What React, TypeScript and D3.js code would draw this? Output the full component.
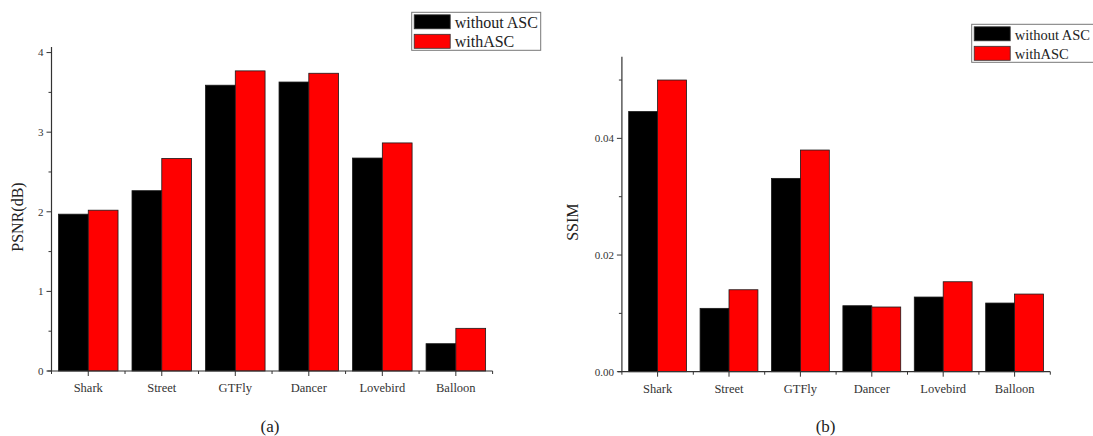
import React from "react";
import * as d3 from "d3";

const categories = ["Shark", "Street", "GTFly", "Dancer", "Lovebird", "Balloon"];
const seriesNames = ["without ASC", "withASC"];
const seriesColors = ["#000000", "#ff0000"];
const psnrWithout = [1.97, 2.265, 3.59, 3.63, 2.675, 0.343];
const psnrWith = [2.02, 2.67, 3.77, 3.74, 2.865, 0.536];
const ssimWithout = [0.0446, 0.01086, 0.03314, 0.01131, 0.0128, 0.01177];
const ssimWith = [0.05, 0.01405, 0.038, 0.01109, 0.01542, 0.01331];
const psnrTicks = [0, 1, 2, 3, 4];
const ssimTicks = [0, 0.02, 0.04];

const FONT = "'Liberation Serif', 'Times New Roman', serif";
const AX = "#333";

type PanelProps = {
  x0: number; x1: number; yTop: number; yBase: number;
  domainMax: number; ticks: number[]; minorStep: number; tickFmt: (v: number) => string;
  values: number[][]; title: string; titleX: number; caption: string; captionX: number;
  legendX: number; legendY: number; legendW: number; legendFont: number;
};

function Panel(p: PanelProps) {
  const x = d3.scaleBand<string>().domain(categories).range([p.x0, p.x1]).paddingInner(0).paddingOuter(0);
  const y = d3.scaleLinear().domain([0, p.domainMax]).range([p.yBase, p.yTop]);
  const bw = x.bandwidth();
  const inner = d3.scaleBand<number>().domain([0, 1]).range([bw * 0.095, bw * 0.905]);
  const minors: number[] = [];
  for (let v = p.minorStep; v < p.domainMax; v += p.minorStep * 2) minors.push(v);
  const xTicksBoundary = categories.map((c) => x(c)!).concat([p.x1]);
  return (
    <g>
      {categories.map((c, i) => (
        <g key={c}>
          {p.values.map((vals, s) => (
            <rect key={s}
              x={x(c)! + inner(s)!}
              y={y(vals[i])}
              width={inner.bandwidth()}
              height={p.yBase - y(vals[i])}
              fill={seriesColors[s]}
              stroke="#1a1a1a"
              strokeWidth={0.8}
            />
          ))}
        </g>
      ))}
      {/* y axis */}
      <line x1={p.x0} x2={p.x0} y1={p.yTop} y2={p.yBase} stroke={AX} strokeWidth={1.2} />
      {p.ticks.map((t) => (
        <g key={t}>
          <line x1={p.x0 - 5} x2={p.x0} y1={y(t)} y2={y(t)} stroke={AX} strokeWidth={1} />
          <text x={p.x0 - 8} y={y(t)} dy="0.35em" textAnchor="end" fontSize={11} fontFamily={FONT} fill="#333">
            {p.tickFmt(t)}
          </text>
        </g>
      ))}
      {minors.map((t) => (
        <line key={t} x1={p.x0 - 3} x2={p.x0} y1={y(t)} y2={y(t)} stroke={AX} strokeWidth={1} />
      ))}
      {/* x axis */}
      <line x1={p.x0 - 4} x2={p.x1} y1={p.yBase} y2={p.yBase} stroke={AX} strokeWidth={1.2} />
      {xTicksBoundary.map((t, i) => (
        <line key={"b" + i} x1={t} x2={t} y1={p.yBase} y2={p.yBase + 3} stroke={AX} strokeWidth={1} />
      ))}
      {categories.map((c) => (
        <g key={c}>
          <line x1={x(c)! + bw / 2} x2={x(c)! + bw / 2} y1={p.yBase} y2={p.yBase + 5} stroke={AX} strokeWidth={1} />
          <text x={x(c)! + bw / 2} y={p.yBase + 21} textAnchor="middle" fontSize={12.5} fontFamily={FONT} fill="#333">
            {c}
          </text>
        </g>
      ))}
      <text transform={`translate(${p.titleX},${(p.yTop + p.yBase) / 2 + 8}) rotate(-90)`} textAnchor="middle"
        dy="0.35em" fontSize={16} fontFamily={FONT} fill="#222">
        {p.title}
      </text>
      <text x={p.captionX} y={432} textAnchor="middle" fontSize={17} fontFamily={FONT} fill="#222">
        {p.caption}
      </text>
      {/* legend */}
      <rect x={p.legendX} y={p.legendY} width={p.legendW} height={38} fill="#fff" stroke="#777" strokeWidth={1} />
      {seriesNames.map((n, s) => (
        <g key={n}>
          <rect x={p.legendX + 2.5} y={p.legendY + 2.5 + s * 19.5} width={36} height={14}
            fill={seriesColors[s]} stroke="#333" strokeWidth={0.8} />
          <text x={p.legendX + 43} y={p.legendY + 15.5 + s * 19.5} fontSize={p.legendFont} fontFamily={FONT} fill="#222">
            {n}
          </text>
        </g>
      ))}
    </g>
  );
}

export default function App() {
  return (
    <svg width={1093} height={436} style={{ position: "absolute", left: 0, top: 0, background: "#fff" }}>
      <Panel x0={51.5} x1={492.6} yTop={47} yBase={371} domainMax={4.07} ticks={psnrTicks} minorStep={0.5}
        tickFmt={(v) => String(v)} values={[psnrWithout, psnrWith]} title="PSNR(dB)" titleX={17.5}
        caption="(a)" captionX={270} legendX={411.7} legendY={12.3} legendW={129} legendFont={16} />
      <Panel x0={621.9} x1={1050.3} yTop={56.7} yBase={371.7} domainMax={0.054} ticks={ssimTicks} minorStep={0.01}
        tickFmt={(v) => v.toFixed(2)} values={[ssimWithout, ssimWith]} title="SSIM" titleX={572.5}
        caption="(b)" captionX={825.6} legendX={971.7} legendY={24.3} legendW={140} legendFont={14.5} />
    </svg>
  );
}
